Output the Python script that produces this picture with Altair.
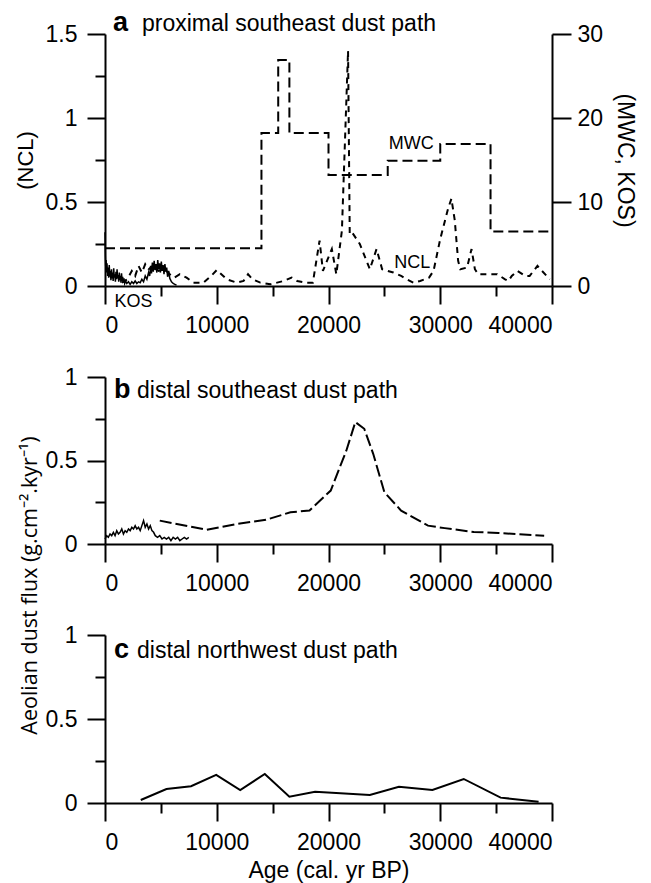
import altair as alt
import pandas as pd

FONT = "Liberation Sans"

# ---------------- Panel a : proximal southeast dust path ----------------
# NCL (left axis)
ncl_age = [1500, 2000, 2400, 2700, 3000, 3300, 3600, 3900, 4300, 4800, 5300, 5800,
           6200, 6700, 7300, 7900, 8800, 9500, 10000, 10900, 11800, 12400, 12800,
           13200, 13900, 14800, 15400, 16000, 16700, 17200, 18000, 18600, 19200,
           19500, 20300, 20700, 21200, 21750, 21900, 22100, 22800, 23700, 24300,
           24800, 25800, 26500, 27000, 27600, 28200, 29000, 29400, 30000, 30700,
           31000, 31300, 31600, 31800, 32400, 32800, 33100, 33400, 35100, 35800,
           36100, 36400, 36900, 37600, 38000, 38700, 39100, 39800]
ncl_val = [0.02, 0.04, 0.09, 0.06, 0.12, 0.08, 0.13, 0.10, 0.12, 0.09, 0.10, 0.07,
           0.05, 0.07, 0.05, 0.02, 0.02, 0.06, 0.095, 0.04, 0.02, 0.03, 0.07,
           0.04, 0.02, 0.01, 0.02, 0.03, 0.05, 0.03, 0.02, 0.02, 0.27,
           0.09, 0.22, 0.07, 0.33, 1.40, 0.31, 0.32, 0.25, 0.10, 0.22,
           0.10, 0.08, 0.06, 0.04, 0.02, 0.03, 0.05, 0.09, 0.28, 0.46,
           0.52, 0.39, 0.15, 0.10, 0.11, 0.22, 0.10, 0.07, 0.07, 0.04,
           0.03, 0.06, 0.09, 0.06, 0.06, 0.12, 0.09, 0.04]

# KOS (right axis)
kos_age = [0, 30, 60, 100, 140, 180, 230, 280, 330, 380, 430, 480, 530, 580, 630,
           680, 730, 780, 830, 880, 930, 980, 1030, 1080, 1130, 1180, 1230, 1280,
           1330, 1380, 1430, 1480, 1530, 1580, 1640, 1700, 1760, 1850, 1950, 2100,
           2250, 2400, 2550, 2700, 2850, 3000, 3150, 3300, 3450, 3600, 3750, 3900,
           4000, 4080, 4160, 4240, 4320, 4400, 4480, 4560, 4640, 4720, 4800, 4880,
           4960, 5040, 5120, 5200, 5280, 5360, 5440, 5520, 5600, 5700, 5800, 5950,
           6100, 6250, 6400]
kos_val = [6.4, 3.6, 2.4, 3.1, 1.6, 2.7, 1.2, 2.2, 1.0, 2.5, 1.1, 1.8, 0.7, 2.0,
           0.9, 1.6, 0.6, 2.1, 1.0, 1.4, 0.5, 1.7, 0.8, 2.0, 0.9, 1.3, 0.5, 1.6,
           0.7, 1.2, 0.4, 1.5, 0.6, 1.1, 0.4, 0.9, 0.3, 0.6, 0.3, 0.5,
           0.2, 0.5, 0.3, 0.6, 0.3, 0.5, 0.4, 0.8, 0.5, 1.2, 0.8, 1.6,
           1.2, 2.4, 1.5, 2.8, 1.7, 3.0, 1.9, 2.6, 1.6, 3.1, 2.0, 2.7,
           1.6, 2.9, 1.8, 2.5, 1.4, 2.6, 1.7, 2.2, 1.1, 1.8, 0.9, 0.5,
           0.3, 0.2, 0.1]

# MWC (right axis, stepped)
mwc_age = [0, 14000, 15500, 16500, 20000, 25300, 30000, 34500, 40000]
mwc_val = [4.5, 18.2, 26.9, 18.2, 13.2, 14.9, 16.9, 6.5, 6.5]

# annotations of panel a (in NCL units)
annot_text = ["MWC", "NCL", "KOS"]
annot_age = [27400, 27500, 2550]
annot_val = [0.845, 0.134, -0.095]

# ---------------- Panel b : distal southeast dust path ----------------
b_solid_age = [0, 150, 300, 450, 600, 750, 900, 1050, 1200, 1350, 1500, 1650, 1800,
               1950, 2100, 2250, 2400, 2550, 2700, 2850, 3000, 3150, 3300, 3450,
               3600, 3750, 3900, 4050, 4200, 4350, 4500, 4700, 4900, 5100, 5300,
               5500, 5700, 5900, 6100, 6300, 6500, 6700, 6900, 7100, 7300, 7500]
b_solid_val = [0.03, 0.05, 0.04, 0.06, 0.05, 0.07, 0.05, 0.08, 0.06, 0.07, 0.09, 0.06,
               0.08, 0.07, 0.09, 0.08, 0.10, 0.09, 0.11, 0.09, 0.10, 0.08, 0.11, 0.14,
               0.10, 0.12, 0.09, 0.11, 0.08, 0.07, 0.05, 0.04, 0.05, 0.03, 0.04,
               0.03, 0.04, 0.02, 0.04, 0.03, 0.04, 0.02, 0.03, 0.04, 0.03, 0.04]
b_dash_age = [4900, 9100, 11800, 14400, 16600, 18300, 20200, 21600, 22400, 23200,
              24000, 25000, 26500, 28900, 30400, 33000, 35200, 39300]
b_dash_val = [0.14, 0.085, 0.12, 0.145, 0.19, 0.20, 0.32, 0.56, 0.73, 0.69,
              0.54, 0.31, 0.20, 0.11, 0.095, 0.072, 0.066, 0.05]

# ---------------- Panel c : distal northwest dust path ----------------
c_age = [3200, 5500, 7700, 9950, 12100, 14300, 16500, 18800, 23700, 26300, 29300,
         32100, 35400, 38800]
c_val = [0.018, 0.083, 0.10, 0.167, 0.077, 0.173, 0.038, 0.067, 0.048, 0.097, 0.077,
         0.143, 0.032, 0.008]

# ticks
x_major = [0, 10000, 20000, 30000, 40000]
x_minor = [5000, 15000, 25000, 35000]
ya_major = [0, 0.5, 1, 1.5]
ya_minor = [0.25, 0.75, 1.25]
yr_major = [0, 10, 20, 30]
ybc_major = [0, 0.5, 1]
ybc_minor = [0.25, 0.75]

W = 447
MAJ = 18
MIN = 10

XS = alt.Scale(domain=[0, 40000], nice=False)


def x_major_axis(labels=True, **kw):
    return alt.Axis(values=x_major, tickSize=MAJ, labels=labels, format="d",
                    labelPadding=10, orient="bottom", grid=False, **kw)


def x_minor_axis():
    return alt.Axis(values=x_minor, tickSize=MIN, labels=False, domain=False,
                    orient="bottom", title=None, grid=False)


def panel_title(letter, text, lx, tx, by):
    l1 = alt.Chart(pd.DataFrame({"t": [letter]})).mark_text(
        font=FONT, fontSize=27, fontWeight="bold", align="left",
        baseline="alphabetic", color="black"
    ).encode(text="t:N", x=alt.value(lx), y=alt.value(by))
    l2 = alt.Chart(pd.DataFrame({"t": [text]})).mark_text(
        font=FONT, fontSize=23, align="left", baseline="alphabetic", color="black"
    ).encode(text="t:N", x=alt.value(tx), y=alt.value(by))
    return l1, l2


# ---- panel a
ncl_df = pd.DataFrame({"age": ncl_age, "v": ncl_val})
kos_df = pd.DataFrame({"age": kos_age, "v": kos_val})
mwc_df = pd.DataFrame({"age": mwc_age, "v": mwc_val})
ann_df = pd.DataFrame({"age": annot_age, "v": annot_val, "t": annot_text})

YA = alt.Scale(domain=[0, 1.5], nice=False)
YR = alt.Scale(domain=[0, 30], nice=False)

ncl_line = alt.Chart(ncl_df).mark_line(
    color="black", strokeWidth=2, strokeDash=[6, 5]
).encode(
    x=alt.X("age:Q", scale=XS, axis=x_major_axis(labels=True, title=None)),
    y=alt.Y("v:Q", scale=YA, axis=alt.Axis(
        values=ya_major, tickSize=MAJ, format="~g", orient="left", labelPadding=10,
        title="(NCL)", titleFontSize=22, titlePadding=8, grid=False)),
)
mwc_line = alt.Chart(mwc_df).mark_line(
    color="black", strokeWidth=2, strokeDash=[10, 5], interpolate="step-after"
).encode(
    x=alt.X("age:Q", scale=XS, axis=x_minor_axis()),
    y=alt.Y("v:Q", scale=YR, axis=alt.Axis(
        values=yr_major, tickSize=MAJ + 1, format="d", orient="right", labelPadding=6,
        title="(MWC, KOS)", titleAngle=90, titlePadding=10, grid=False)),
)
kos_line = alt.Chart(kos_df).mark_line(color="black", strokeWidth=1.5).encode(
    x=alt.X("age:Q", scale=XS, axis=None),
    y=alt.Y("v:Q", scale=YR, axis=None),
)
ann = alt.Chart(ann_df).mark_text(
    font=FONT, fontSize=18, color="black", align="center", baseline="middle"
).encode(
    x=alt.X("age:Q", scale=XS, axis=None),
    y=alt.Y("v:Q", scale=YA, axis=alt.Axis(
        values=ya_minor, tickSize=MIN, labels=False, domain=False, orient="left",
        title=None, grid=False)),
    text="t:N",
)
ta1, ta2 = panel_title("a", "proximal southeast dust path", 8, 37, -3)
panel_a = alt.layer(ncl_line, mwc_line, kos_line, ann, ta1, ta2).resolve_scale(
    y="independent").resolve_axis(x="independent", y="independent").properties(
    width=W, height=252)

# ---- panel b
bs_df = pd.DataFrame({"age": b_solid_age, "v": b_solid_val})
bd_df = pd.DataFrame({"age": b_dash_age, "v": b_dash_val})
YB = alt.Scale(domain=[0, 1], nice=False)

b_solid = alt.Chart(bs_df).mark_line(color="black", strokeWidth=1.5).encode(
    x=alt.X("age:Q", scale=XS, axis=x_major_axis(labels=True, title=None)),
    y=alt.Y("v:Q", scale=YB, axis=alt.Axis(
        values=ybc_major, tickSize=MAJ, format="~g", orient="left", labelPadding=10,
        title=None, grid=False)),
)
b_dash = alt.Chart(bd_df).mark_line(color="black", strokeWidth=2, strokeDash=[12, 4]).encode(
    x=alt.X("age:Q", scale=XS, axis=x_minor_axis()),
    y=alt.Y("v:Q", scale=YB, axis=alt.Axis(
        values=ybc_minor, tickSize=MIN, labels=False, domain=False, orient="left",
        title=None, grid=False)),
)
tb1, tb2 = panel_title("b", "distal southeast dust path", 9, 32, 21)
panel_b = alt.layer(b_solid, b_dash, tb1, tb2).resolve_axis(
    x="independent", y="independent").properties(width=W, height=167)

# ---- panel c
c_df = pd.DataFrame({"age": c_age, "v": c_val})
c_line = alt.Chart(c_df).mark_line(color="black", strokeWidth=2).encode(
    x=alt.X("age:Q", scale=XS, axis=x_major_axis(
        labels=True, title="Age (cal. yr BP)", titleY=74, titleBaseline="alphabetic")),
    y=alt.Y("v:Q", scale=YB, axis=alt.Axis(
        values=ybc_major, tickSize=MAJ, format="~g", orient="left", labelPadding=10,
        title="Aeolian dust flux (g.cm\u207b\u00b2.kyr\u207b\u00b9)", titleFont="Open Sans",
        titleFontSize=21.5, titleAngle=270, titleAlign="center", titleBaseline="bottom",
        titleX=-64, titleY=-50, grid=False)),
)
c_minor = alt.Chart(c_df).mark_line(strokeOpacity=0).encode(
    x=alt.X("age:Q", scale=XS, axis=x_minor_axis()),
    y=alt.Y("v:Q", scale=YB, axis=alt.Axis(
        values=ybc_minor, tickSize=MIN, labels=False, domain=False, orient="left",
        title=None, grid=False)),
)
tc1, tc2 = panel_title("c", "distal northwest dust path", 9, 32, 23)
panel_c = alt.layer(c_line, c_minor, tc1, tc2).resolve_axis(
    x="independent", y="independent").properties(width=W, height=168)

chart = alt.vconcat(panel_a, panel_b, panel_c, spacing=91, bounds="flush").properties(
    padding={"left": 5, "top": 0, "right": 5, "bottom": 0}
).configure_axis(
    domainColor="black", domainWidth=2, tickColor="black", tickWidth=2,
    labelFont=FONT, labelFontSize=23, labelColor="black",
    titleFont=FONT, titleFontSize=23, titleColor="black", titleFontWeight="normal",
).configure_view(stroke="transparent")

chart.save("out.html", embed_options={"renderer": "svg", "actions": False})
